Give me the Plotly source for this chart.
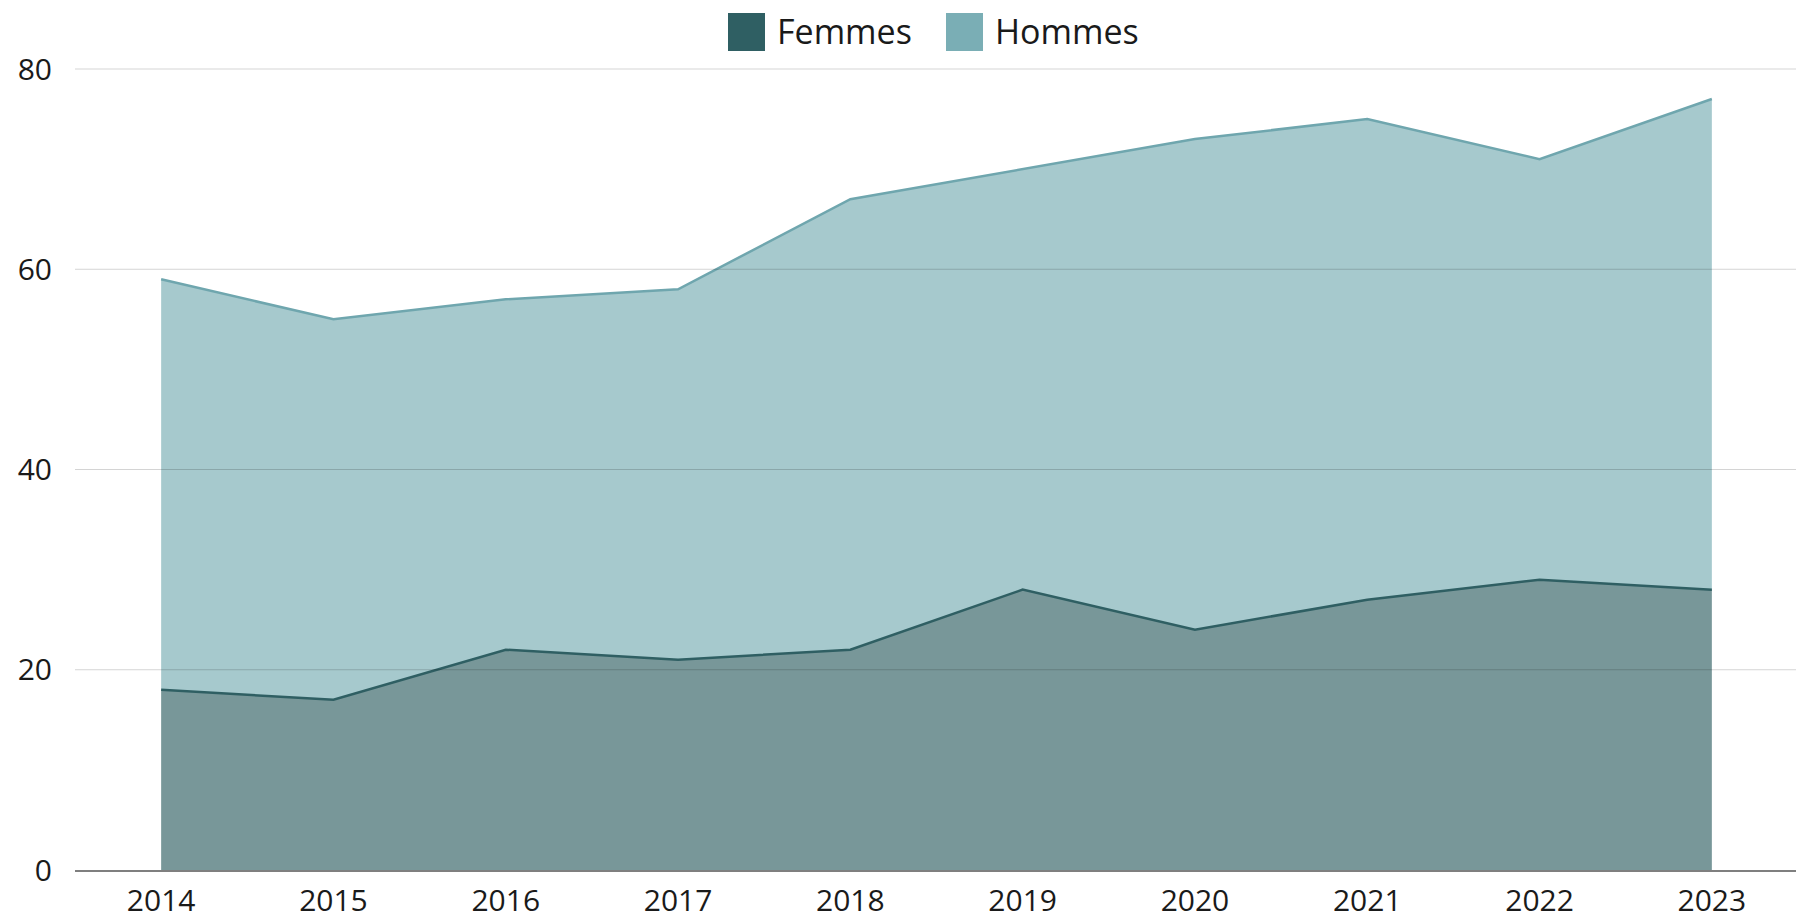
import plotly.graph_objects as go

years = [2014, 2015, 2016, 2017, 2018, 2019, 2020, 2021, 2022, 2023]
femmes = [18, 17, 22, 21, 22, 28, 24, 27, 29, 28]
hommes = [41, 38, 35, 37, 45, 42, 49, 48, 42, 49]
series_names = ["Femmes", "Hommes"]
line_colors = ["#2f5f63", "#6fa6ae"]
fill_colors = ["rgba(47,95,99,0.65)", "rgba(122,174,181,0.67)"]
legend_colors = ["#2f5f63", "#7aaeb5"]
y_ticks = [0, 20, 40, 60, 80]

FONT = "Open Sans, Lato, sans-serif"
TXT = "#1a1a1a"

# The page body has an 8px margin; figure is sized/offset to compensate.
OFF = 8
W, H = 1804 - OFF, 919 - OFF
ML, MR, MT, MB = 67, 6, 56, 49
PW, PH = W - ML - MR, H - MT - MB

fig = go.Figure()
for name, vals, lc, fc in zip(series_names, [femmes, hommes], line_colors, fill_colors):
    fig.add_trace(go.Scatter(
        x=years, y=vals, name=name, mode="lines", stackgroup="one",
        line=dict(color=lc, width=2.5), fillcolor=fc, showlegend=False,
        hoverinfo="x+y+name",
    ))

# Horizontal grid lines drawn above the areas (translucent), at the y ticks
for t in y_ticks[1:]:
    fig.add_shape(type="line", xref="paper", yref="y", x0=0, x1=1, y0=t, y1=t,
                  line=dict(color="rgba(0,0,0,0.17)", width=1.2), layer="above")

# Custom legend (large square swatches); pixel positions in the figure
legend_px = [720, 938]
for name, col, px in zip(series_names, legend_colors, legend_px):
    x0 = (px - ML) / PW
    x1 = (px + 37 - ML) / PW
    fig.add_shape(type="rect", xref="paper", yref="paper",
                  x0=x0, x1=x1, y0=1 + (MT - 43) / PH, y1=1 + (MT - 5) / PH,
                  fillcolor=col, line=dict(width=0))
    fig.add_annotation(xref="paper", yref="paper", x=(px + 37 + 10 - ML) / PW,
                       y=1 + (MT - 23) / PH, text=name, showarrow=False,
                       xanchor="left", yanchor="middle",
                       font=dict(family=FONT, size=34, color=TXT))

fig.update_layout(
    width=W, height=H,
    margin=dict(l=ML, r=MR, t=MT, b=MB, autoexpand=False),
    paper_bgcolor="white", plot_bgcolor="white",
    font=dict(family=FONT, size=30, color=TXT),
    showlegend=False,
    xaxis=dict(
        range=[2013.5, 2023.5], tickmode="array", tickvals=years,
        ticktext=[str(y) for y in years], showgrid=False, zeroline=False,
        showline=True, linecolor="#7f7f7f", linewidth=1.5, layer="above traces",
        ticks="", ticklabelstandoff=3, automargin=False,
        tickfont=dict(family=FONT, size=30, color=TXT),
    ),
    yaxis=dict(
        range=[0, 80.5], tickmode="array", tickvals=y_ticks,
        showgrid=False, zeroline=False,
        showline=False, ticks="", ticklabelstandoff=22, automargin=False,
        tickfont=dict(family=FONT, size=30, color=TXT),
    ),
)

fig.write_html("out.html")
